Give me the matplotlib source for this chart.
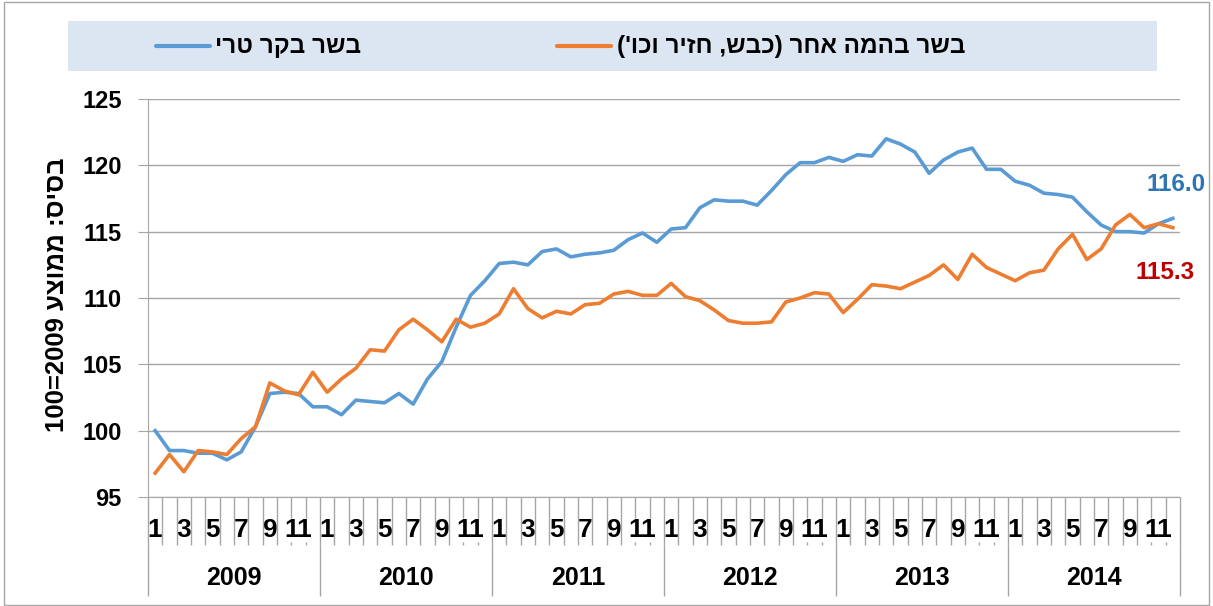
import re
import matplotlib
matplotlib.use('Agg')
import matplotlib.pyplot as plt
from matplotlib.lines import Line2D
from matplotlib.patches import Rectangle

# נתונים חודשיים 2009-2014, בסיס: ממוצע 2009=100
years = [2009, 2010, 2011, 2012, 2013, 2014]
months = list(range(1, 13))

beef = [100.0, 98.5, 98.5, 98.3, 98.3, 97.8, 98.4, 100.3, 102.8, 102.9, 102.8, 101.8,
        101.8, 101.2, 102.3, 102.2, 102.1, 102.8, 102.0, 103.9, 105.2, 107.8, 110.2, 111.3,
        112.6, 112.7, 112.5, 113.5, 113.7, 113.1, 113.3, 113.4, 113.6, 114.4, 114.9, 114.2,
        115.2, 115.3, 116.8, 117.4, 117.3, 117.3, 117.0, 118.1, 119.3, 120.2, 120.2, 120.6,
        120.3, 120.8, 120.7, 122.0, 121.6, 121.0, 119.4, 120.4, 121.0, 121.3, 119.7, 119.7,
        118.8, 118.5, 117.9, 117.8, 117.6, 116.5, 115.5, 115.0, 115.0, 114.9, 115.6, 116.0]

other_meat = [96.8, 98.2, 96.9, 98.5, 98.4, 98.2, 99.4, 100.3, 103.6, 103.0, 102.7, 104.4,
              102.9, 103.9, 104.7, 106.1, 106.0, 107.6, 108.4, 107.6, 106.7, 108.4, 107.8, 108.1,
              108.8, 110.7, 109.2, 108.5, 109.0, 108.8, 109.5, 109.6, 110.3, 110.5, 110.2, 110.2,
              111.1, 110.1, 109.8, 109.1, 108.3, 108.1, 108.1, 108.2, 109.7, 110.0, 110.4, 110.3,
              108.9, 109.9, 111.0, 110.9, 110.7, 111.2, 111.7, 112.5, 111.4, 113.3, 112.3, 111.8,
              111.3, 111.9, 112.1, 113.7, 114.8, 112.9, 113.7, 115.5, 116.3, 115.3, 115.6, 115.3]

label_beef = 'בשר בקר טרי'
label_other = "בשר בהמה אחר (כבש, חזיר וכו')"
ylabel = 'בסיס: ממוצע 2009=100'

BLUE = '#5B9BD5'
ORANGE = '#ED7D31'
GRID = '#A6A6A6'
HEB = ['Liberation Sans', 'DejaVu Sans']
NARROW = ['Liberation Sans Narrow', 'Liberation Sans', 'DejaVu Sans']


# matplotlib לא עושה bidi - היפוך פשוט לטקסט עברי
def rtl(s):
    v = s[::-1]
    v = v.translate(str.maketrans('()', ')('))
    return re.sub(r'[0-9]+', lambda m: m.group(0)[::-1], v)


W, H = 1213, 606
fig = plt.figure(figsize=(W / 100, H / 100), dpi=100)
fig.patches.append(Rectangle((0.003, 0.002), 0.994, 0.994, transform=fig.transFigure,
                             fill=False, edgecolor=GRID, lw=1))

ax = fig.add_axes([148 / W, 109 / H, 1032 / W, 398 / H])
n = len(beef)
x = list(range(n))
ax.plot(x, beef, color=BLUE, lw=2.6, solid_joinstyle='round', zorder=3)
ax.plot(x, other_meat, color=ORANGE, lw=2.6, solid_joinstyle='round', zorder=3)

ax.set_xlim(-0.5, n - 0.5)
ax.set_ylim(95, 125)
ax.set_yticks(range(95, 126, 5))
ax.grid(axis='y', color=GRID, lw=1, zorder=1)
for s in ['top', 'right']:
    ax.spines[s].set_visible(False)
for s in ['left', 'bottom']:
    ax.spines[s].set_color(GRID)
ax.tick_params(axis='y', length=7, color=GRID, pad=12, labelsize=17)
for t in ax.get_yticklabels():
    t.set_fontweight('bold')
    t.set_family(HEB)
ax.set_xticks([])

# ציר קטגוריות: חודשים ושנים
tr = ax.get_xaxis_transform()
labels = [str(m) if m % 2 == 1 else '' for y in years for m in months]
for i in x:
    if labels[i]:
        ax.text(i, -33 / 398, labels[i], transform=tr, ha='center', va='center', fontsize=19,
                fontweight='bold', family=NARROW, zorder=10, clip_on=False)
for k, y in enumerate(years):
    ax.text(k * 12 + 5.5, -81 / 398, str(y), transform=tr, ha='center', va='center',
            fontsize=18, fontweight='bold', family=HEB, zorder=10)

# קווי הפרדה בין חודשים - עם רווח מאחורי תוויות דו-ספרתיות
wide = set()
for i in x:
    if len(labels[i]) > 1:
        wide.update([i - 0.5, i + 0.5])
bounds = [i - 0.5 for i in range(n + 1)]
full = [b for b in bounds if b not in wide]
split = sorted(wide)
ax.vlines(full, 0, -48 / 398, transform=tr, colors=GRID, lw=1, clip_on=False, zorder=12)
ax.vlines(split, 0, -21 / 398, transform=tr, colors=GRID, lw=1, clip_on=False, zorder=12)
ax.vlines(split, -45 / 398, -48 / 398, transform=tr, colors=GRID, lw=1, clip_on=False, zorder=12)
ax.vlines(bounds[::12], -48 / 398, -99 / 398, transform=tr, colors=GRID, lw=1,
          clip_on=False, zorder=12)

# ערכים אחרונים
ax.annotate(f'{beef[-1]:.1f}', (n - 1, beef[-1]), xytext=(3, 34), textcoords='offset pixels',
            ha='center', va='center', color='#2E75B6', fontsize=17.5, fontweight='bold',
            family=HEB, annotation_clip=False)
ax.annotate(f'{other_meat[-1]:.1f}', (n - 1, other_meat[-1]), xytext=(-8, -45),
            textcoords='offset pixels', ha='center', va='center', color='#C00000',
            fontsize=17.5, fontweight='bold', family=HEB, annotation_clip=False)

fig.text(57 / W, 1 - 295 / H, rtl(ylabel), rotation=90, ha='center', va='center',
         fontsize=18.5, fontweight='bold', family=HEB)

# מקרא
fig.patches.append(Rectangle((68 / W, 1 - 71 / H), 1089 / W, 50 / H, transform=fig.transFigure,
                             facecolor='#DCE6F2', edgecolor='none'))
ly = 1 - 46 / H
for x0, x1, tx, c, lab in [(156, 210, 215, BLUE, label_beef), (557, 611, 617, ORANGE, label_other)]:
    fig.lines.append(Line2D([x0 / W, x1 / W], [ly, ly], transform=fig.transFigure, color=c,
                            lw=3, solid_capstyle='round'))
    fig.text(tx / W, ly, rtl(lab), ha='left', va='center', fontsize=17.5, fontweight='bold',
             family=HEB)

fig.savefig('out.png', dpi=100)
